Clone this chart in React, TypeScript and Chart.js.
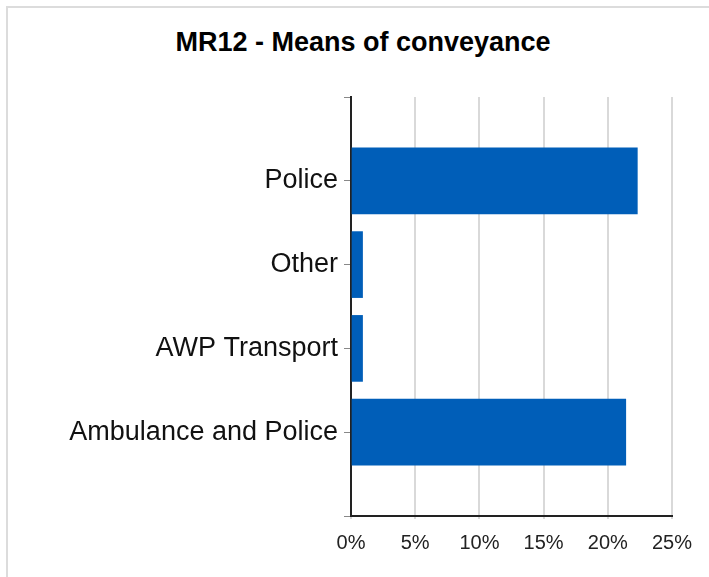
import React, { useEffect, useRef } from "react";
import { Chart, registerables } from "chart.js";

Chart.register(...registerables);

const TITLE = "MR12 - Means of conveyance";
const categories = ["Police", "Other", "AWP Transport", "Ambulance and Police"];
const values = [22.3, 0.9, 0.9, 21.4];
const xTicks = [0, 5, 10, 15, 20, 25];

const FONT = "'Liberation Sans', Arial, sans-serif";

export default function App() {
  const ref = useRef<HTMLCanvasElement | null>(null);

  useEffect(() => {
    if (!ref.current) return;
    // pad with empty slots at both ends (axis spans a full slot beyond first/last bar)
    const labels = ["", ...categories, ""];
    const data = [null, ...values, null];
    const chart = new Chart(ref.current, {
      type: "bar",
      data: {
        labels,
        datasets: [
          {
            data,
            backgroundColor: "#005EB8",
            borderWidth: 0,
            barThickness: 66,
          },
        ],
      },
      options: {
        animation: false,
        responsive: false,
        indexAxis: "y",
        layout: { padding: { left: 0, top: 97, right: 37, bottom: 21 } },
        plugins: {
          legend: { display: false },
          tooltip: { enabled: false },
          title: { display: false },
        },
        scales: {
          x: {
            type: "linear",
            min: xTicks[0],
            max: xTicks[xTicks.length - 1],
            afterBuildTicks: (scale: any) => {
              scale.ticks = xTicks.map((v) => ({ value: v }));
            },
            afterFit: (scale: any) => {
              scale.height = 40;
            },
            ticks: {
              callback: (v: any) => v + "%",
              font: { family: FONT, size: 20 },
              color: "#222",
              padding: 12,
            },
            grid: {
              color: "#d9d9d9",
              lineWidth: 2,
              tickLength: 3,
            },
            border: { color: "#222", width: 2 },
          },
          y: {
            type: "category",
            offset: false,
            afterFit: (scale: any) => {
              scale.width = 351;
            },
            ticks: {
              autoSkip: false,
              font: { family: FONT, size: 27 },
              color: "#111",
              padding: 6,
            },
            grid: {
              offset: false,
              drawOnChartArea: false,
              drawTicks: true,
              tickLength: 7,
              color: "#888",
              lineWidth: 1,
            },
            border: { color: "#222", width: 2 },
          },
        },
      },
    });
    return () => chart.destroy();
  }, []);

  return (
    <div style={{ position: "fixed", inset: 0, overflow: "hidden", background: "#fff" }}>
      <div
        style={{
          position: "absolute",
          left: 6,
          top: 6,
          width: 1000,
          height: 1000,
          borderLeft: "2px solid #dcdcdc",
          borderTop: "2px solid #dcdcdc",
        }}
      />
      <div
        style={{
          position: "absolute",
          left: 63,
          top: 29,
          width: 600,
          textAlign: "center",
          fontFamily: FONT,
          fontWeight: "bold",
          fontSize: 27,
          lineHeight: "27px",
          color: "#000",
          whiteSpace: "nowrap",
        }}
      >
        {TITLE}
      </div>
      <canvas
        ref={ref}
        width={709}
        height={577}
        style={{ position: "absolute", left: 0, top: 0, width: 709, height: 577 }}
      />
    </div>
  );
}
